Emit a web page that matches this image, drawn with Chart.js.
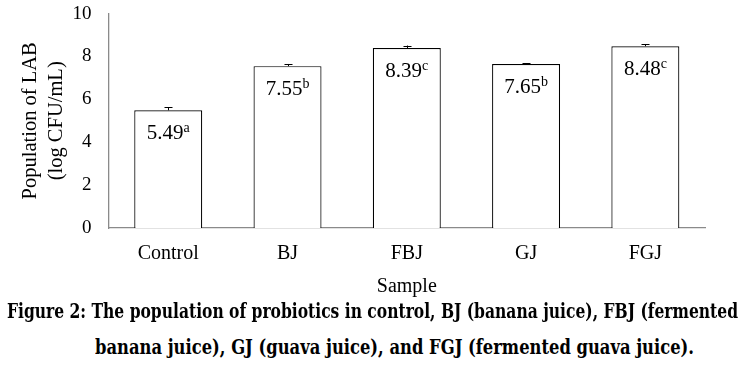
<!DOCTYPE html>
<html>
<head>
<meta charset="utf-8">
<script src="https://cdn.jsdelivr.net/npm/chart.js@4/dist/chart.umd.min.js"></script>
<style>
  html, body { margin: 0; padding: 0; background: #fff; }
  #wrap { position: relative; width: 748px; height: 365px; overflow: hidden; }
  #box { position: absolute; left: 0; top: 0; width: 748px; height: 303px; }
  .cap {
    position: absolute; white-space: nowrap; transform-origin: 0 0;
    font-family: "DejaVu Serif Condensed", "DejaVu Serif", serif; font-weight: bold;
    font-size: 20px; line-height: 1; color: #000;
  }
</style>
</head>
<body>
<div id="wrap">
  <div id="box"><canvas id="chart"></canvas></div>
  <div class="cap" id="cap1" data-left="7" data-width="731" data-base="317">Figure 2: The population of probiotics in control, BJ (banana juice), FBJ (fermented</div>
  <div class="cap" id="cap2" data-left="95" data-width="599" data-base="353">banana juice), GJ (guava juice), and FGJ (fermented guava juice).</div>
</div>
<script>
'use strict';

var SAMPLES  = ['Control', 'BJ', 'FBJ', 'GJ', 'FGJ'];
var LAB_MEAN = [5.49, 7.55, 8.39, 7.65, 8.48];
var LAB_SD   = [0.14, 0.10, 0.12, 0.04, 0.09];
var LETTERS  = ['a', 'b', 'c', 'b', 'c'];
var Y_TICKS  = [0, 2, 4, 6, 8, 10];

var SERIF = '"Liberation Serif", "Times New Roman", serif';
var AXIS_GREY = '#8a8a8a';

// error bars drawn on top of each bar
var errorBars = {
  id: 'errorBars',
  afterDatasetsDraw: function(chart) {
    var ctx  = chart.ctx;
    var yS   = chart.scales.y;
    var meta = chart.getDatasetMeta(0);
    ctx.save();
    ctx.strokeStyle = '#000';
    ctx.lineWidth = 1;
    meta.data.forEach(function(bar, i) {
      var top = yS.getPixelForValue(LAB_MEAN[i] + LAB_SD[i]);
      var x = Math.round(bar.x) + 0.5;
      ctx.beginPath();
      ctx.moveTo(x, bar.y);
      ctx.lineTo(x, top);
      ctx.moveTo(x - 4, Math.round(top) + 0.5);
      ctx.lineTo(x + 4, Math.round(top) + 0.5);
      ctx.stroke();
    });
    ctx.restore();
  }
};

// value + significance letter inside bar
var barLabels = {
  id: 'barLabels',
  afterDatasetsDraw: function(chart) {
    var ctx  = chart.ctx;
    var meta = chart.getDatasetMeta(0);
    ctx.save();
    ctx.fillStyle = '#000';
    ctx.textBaseline = 'alphabetic';
    ctx.textAlign = 'left';
    meta.data.forEach(function(bar, i) {
      var main = LAB_MEAN[i].toFixed(2);
      var sup  = LETTERS[i];
      ctx.font = '21px ' + SERIF;
      var w1 = ctx.measureText(main).width;
      ctx.font = '14px ' + SERIF;
      var w2 = ctx.measureText(sup).width;
      var x0 = bar.x - (w1 + w2) / 2;
      var base = bar.y + 29;
      ctx.font = '21px ' + SERIF;
      ctx.fillText(main, x0, base);
      ctx.font = '14px ' + SERIF;
      ctx.fillText(sup, x0 + w1, base - 7);
    });
    ctx.restore();
  }
};

new Chart(document.getElementById('chart'), {
  type: 'bar',
  data: {
    labels: SAMPLES,
    datasets: [{
      data: LAB_MEAN,
      backgroundColor: '#ffffff',
      borderColor: '#000000',
      borderWidth: 1.2,
      borderSkipped: 'bottom',
      barPercentage: 0.57,
      categoryPercentage: 1,
    }],
  },
  options: {
    responsive: true,
    maintainAspectRatio: false,
    animation: false,
    devicePixelRatio: 1,
    layout: { padding: { left: 0, right: 43, top: 13.6, bottom: 0 } },
    plugins: {
      legend: { display: false },
      tooltip: { enabled: false },
    },
    scales: {
      x: {
        grid: { display: false },
        border: { display: true, color: AXIS_GREY, width: 1.3 },
        ticks: { color: '#000', font: { family: SERIF, size: 20 }, padding: 6 },
        title: {
          display: true, text: 'Sample', color: '#000',
          font: { family: SERIF, size: 20 }, padding: { top: 2, bottom: 4 },
        },
        afterFit: function(s) { s.height = 75; },
      },
      y: {
        min: 0, max: 10,
        afterBuildTicks: function(s) {
          s.ticks = Y_TICKS.map(function(v) { return { value: v }; });
        },
        grid: { display: false, drawTicks: false },
        border: { display: true, color: AXIS_GREY, width: 1.3 },
        ticks: { color: '#000', font: { family: SERIF, size: 19 }, padding: 17 },
        title: {
          display: true, text: ['Population of LAB', '(log CFU/mL)'], color: '#000',
          font: { family: SERIF, size: 20.5, lineHeight: 1.25 }, padding: { top: 18, bottom: 0 },
        },
        afterFit: function(s) {
          s.width = 108.6;
          s.paddingTop = 0;
          s.paddingBottom = 0;
        },
      },
    },
  },
  plugins: [errorBars, barLabels],
});

// fit caption lines to their measured width
document.querySelectorAll('.cap').forEach(function(el) {
  var w = el.getBoundingClientRect().width;
  var sx = parseFloat(el.dataset.width) / w;
  el.style.left = el.dataset.left + 'px';
  el.style.top = (parseFloat(el.dataset.base) - 16) + 'px';
  el.style.transform = 'scaleX(' + sx + ')';
});
</script>
</body>
</html>
